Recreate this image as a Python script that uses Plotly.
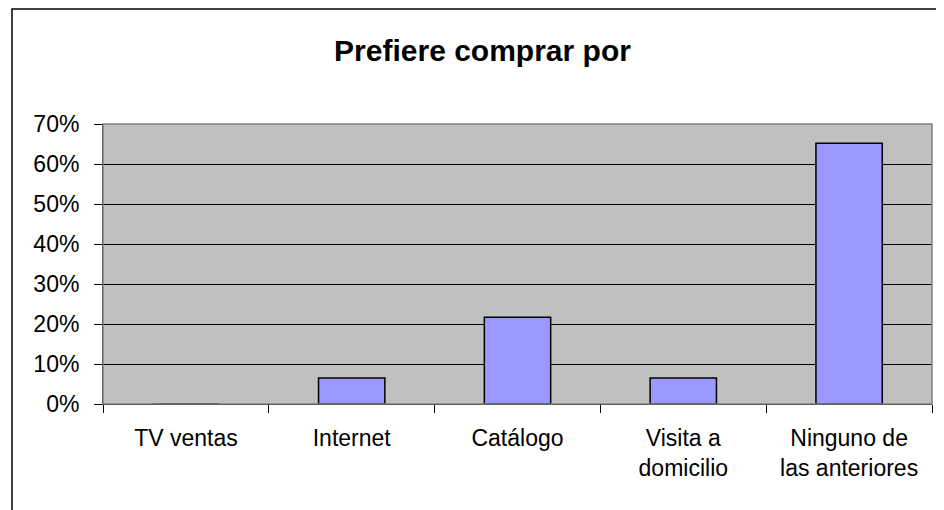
import plotly.graph_objects as go

categories = ["TV ventas", "Internet", "Catálogo", "Visita a<br>domicilio", "Ninguno de<br>las anteriores"]
values = [0.0, 0.065, 0.217, 0.065, 0.652]
y_ticks = [0, 0.1, 0.2, 0.3, 0.4, 0.5, 0.6, 0.7]
title_text = "Prefiere comprar por"

# page has an 8px body margin; figure is sized so it fits the 944x510 window
OFF = 8
W, H = 944 - OFF, 510 - OFF
# plot area in window pixels: x 103..932, y 124..404
L = 103 - OFF
T = 124 - OFF
R = W - (932 - OFF)
B = H - (404 - OFF)
pw, ph = W - L - R, H - T - B

fig = go.Figure()
fig.add_trace(go.Bar(
    x=categories, y=values,
    marker=dict(color="#9999FF", line=dict(color="black", width=1.5)),
    width=0.4,
))

fig.update_layout(
    width=W, height=H,
    margin=dict(l=L, r=R, t=T, b=B),
    paper_bgcolor="white",
    plot_bgcolor="#C0C0C0",
    showlegend=False,
    font=dict(family="Liberation Sans, Arial, sans-serif", color="black", size=23),
    title=dict(text="<b>" + title_text + "</b>", x=(482.5 - OFF) / W, xanchor="center",
               y=1 - (50 - OFF) / H, yanchor="middle",
               font=dict(size=30, family="Liberation Sans, Arial, sans-serif", color="black")),
)
fig.update_xaxes(
    type="category", tickson="boundaries", ticks="outside", ticklen=8, tickcolor="black",
    showline=True, linecolor="black", linewidth=1, showgrid=False,
    tickfont=dict(size=23), range=[-0.5, 4.5], ticklabelstandoff=13,
)
fig.update_yaxes(
    range=[0, 0.7], tickvals=y_ticks, tickformat=".0%", ticks="outside", ticklen=8,
    tickcolor="black", showline=True, linecolor="black", linewidth=1,
    showgrid=True, gridcolor="black", gridwidth=1, zeroline=False,
    tickfont=dict(size=23), ticklabelstandoff=10,
)
# plot-area border (gray) and outer chart frame
fig.add_shape(type="rect", xref="paper", yref="paper", x0=0, x1=1, y0=0, y1=1,
              line=dict(color="#808080", width=1.5), fillcolor="rgba(0,0,0,0)")
fig.add_shape(type="rect", xref="paper", yref="paper",
              x0=(12 - OFF - L) / pw, x1=(W + 20 - L) / pw,
              y0=-(H + 20 - (T + ph)) / ph, y1=(T + ph - (9 - OFF)) / ph,
              line=dict(color="black", width=1.5), fillcolor="rgba(0,0,0,0)", layer="below")

fig.write_html("out.html")
